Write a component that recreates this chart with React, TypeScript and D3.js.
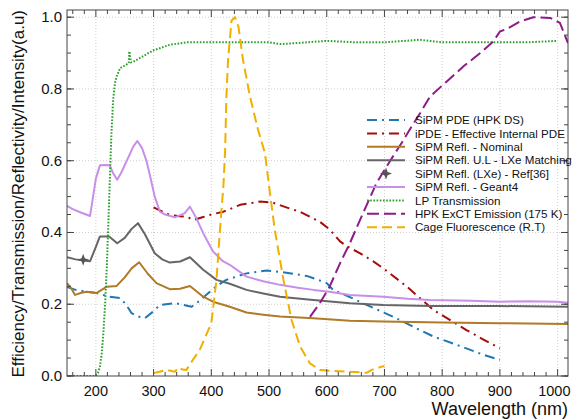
import React from "react";
import * as d3 from "d3";

const W = 572;
const H = 419;
const PL = 67, PR = 568, PT = 10, PB = 376;

// ---- data (wavelength nm, value) ----
const pdeWl = [150,165,184,201,224,242,252,262,275,285,298,311,337,366,380,395,410,426,461,496,530,553,565,585,600,611,640,669,700,727,755,785,842,870,900];
const pdeVal = [0.248,0.24,0.235,0.231,0.221,0.217,0.2,0.175,0.165,0.161,0.178,0.198,0.203,0.193,0.21,0.231,0.252,0.268,0.286,0.294,0.288,0.282,0.279,0.268,0.259,0.24,0.22,0.198,0.176,0.156,0.133,0.11,0.077,0.06,0.045];

const ipdeWl = [300,310,328,345,357,369,386,400,421,450,484,507,530,553,588,606,623,640,658,680,698,739,785,842,870,900];
const ipdeVal = [0.47,0.462,0.449,0.445,0.444,0.435,0.443,0.45,0.458,0.477,0.486,0.483,0.47,0.458,0.43,0.407,0.375,0.357,0.342,0.32,0.3,0.249,0.184,0.128,0.103,0.077];

const nomWl = [150,157,164,175,184,201,210,219,236,250,262,275,290,305,328,346,363,386,403,432,461,490,519,577,640,698,800,900,1018];
const nomVal = [0.259,0.245,0.226,0.232,0.235,0.231,0.24,0.249,0.251,0.275,0.3,0.317,0.285,0.259,0.242,0.243,0.251,0.221,0.207,0.193,0.177,0.171,0.166,0.161,0.154,0.152,0.149,0.147,0.145];

const ulWl = [150,165,178,190,200,207,223,237,250,262,273,285,302,315,328,346,363,386,409,432,461,490,519,577,640,698,779,900,1018];
const ulVal = [0.331,0.325,0.322,0.32,0.36,0.389,0.389,0.37,0.385,0.41,0.426,0.395,0.342,0.325,0.316,0.319,0.331,0.296,0.268,0.257,0.24,0.23,0.221,0.212,0.203,0.198,0.195,0.195,0.193];

const lxeWl = [178];
const lxeVal = [0.324];

const g4Wl = [150,160,175,190,200,207,215,224,230,237,245,255,265,272,280,288,295,302,311,320,337,354,363,374,386,403,420,432,461,490,519,550,577,605,640,698,740,779,850,900,950,1000,1018];
const g4Val = [0.474,0.465,0.455,0.446,0.55,0.587,0.588,0.587,0.565,0.547,0.57,0.605,0.64,0.655,0.635,0.598,0.55,0.5,0.458,0.45,0.442,0.454,0.472,0.44,0.398,0.347,0.32,0.31,0.277,0.264,0.254,0.246,0.24,0.235,0.226,0.221,0.215,0.212,0.21,0.207,0.208,0.207,0.204];

const lpWl = [150,198,201,204,207,210,213,216,219,223,227,230,233,236,242,253,257,258,261,265,276,299,328,357,400,450,500,519,540,600,650,700,761,800,883,950,998];
const lpVal = [0,0,0.003,0.01,0.026,0.06,0.12,0.2,0.305,0.49,0.677,0.77,0.816,0.835,0.858,0.868,0.872,0.905,0.874,0.876,0.886,0.907,0.923,0.93,0.93,0.93,0.93,0.925,0.927,0.934,0.93,0.93,0.937,0.93,0.93,0.93,0.934];

const excWl = [571,588,605,623,640,663,686,710,730,747,762,779,808,837,866,889,900,912,935,958,987,1004,1018];
const excVal = [0.165,0.203,0.249,0.314,0.37,0.454,0.537,0.6,0.65,0.695,0.733,0.779,0.821,0.863,0.9,0.933,0.96,0.967,0.988,1.0,0.998,0.984,0.928];

const cageWl = [300,310,322,337,343,350,357,366,380,400,409,415,421,424,426,429,435,441,447,455,467,481,493,500,510,525,539,554,571,588,600,640,669,678,695,700];
const cageVal = [0.008,0.012,0.017,0.012,0.024,0.018,0.017,0.04,0.073,0.147,0.268,0.407,0.53,0.63,0.77,0.88,0.99,1.0,0.974,0.88,0.779,0.686,0.621,0.53,0.407,0.268,0.156,0.082,0.035,0.017,0.015,0.012,0.009,0.017,0.026,0.028];

const xTicks = [200,300,400,500,600,700,800,900,1000];
const yTicks = [0,0.2,0.4,0.6,0.8,1.0];

type Series = { label: string; wl: number[]; val: number[]; color: string; dash: string; width: number; marker?: boolean };

const series: Series[] = [
  { label: "SiPM PDE (HPK DS)", wl: pdeWl, val: pdeVal, color: "#1f77b4", dash: "10,5,2,5", width: 2 },
  { label: "iPDE - Effective Internal PDE", wl: ipdeWl, val: ipdeVal, color: "#a50d0d", dash: "10,5,2,5", width: 2 },
  { label: "SiPM Refl. - Nominal", wl: nomWl, val: nomVal, color: "#b07a26", dash: "", width: 2 },
  { label: "SiPM Refl. U.L - LXe Matching", wl: ulWl, val: ulVal, color: "#666666", dash: "", width: 2 },
  { label: "SiPM Refl. (LXe) - Ref[36]", wl: lxeWl, val: lxeVal, color: "#555555", dash: "", width: 0, marker: true },
  { label: "SiPM Refl. - Geant4", wl: g4Wl, val: g4Val, color: "#c88fe8", dash: "", width: 2 },
  { label: "LP Transmission", wl: lpWl, val: lpVal, color: "#2ca02c", dash: "1.6,1.6", width: 2 },
  { label: "HPK ExCT Emission (175 K)", wl: excWl, val: excVal, color: "#8b1c88", dash: "12,5", width: 2 },
  { label: "Cage Fluorescence (R.T)", wl: cageWl, val: cageVal, color: "#f0b000", dash: "10,5", width: 2 },
];

const starPath = "M0,-6 L1.6,-1.6 L6,0 L1.6,1.6 L0,6 L-1.6,1.6 L-6,0 L-1.6,-1.6 Z";

export default function App() {
  const x = d3.scaleLinear().domain([150, 1018]).range([PL, PR]);
  const y = d3.scaleLinear().domain([0, 1.02]).range([PB, PT]);
  const xMinor = d3.range(160, 1018, 20);
  const yMinor = d3.range(0, 1.02, 0.05);
  const font = "Liberation Sans, Arial, sans-serif";

  const line = (s: Series) =>
    d3.line<number>().x((_, i) => x(s.wl[i])).y((v) => y(v))(s.val) || "";

  const frame = "#444";
  const legX0 = 367, legX1 = 405, legTx = 415, legY0 = 120, legDy = 13.4;
  const tickFs = 14.5;

  return (
    <svg width={W} height={H} style={{ display: "block", position: "absolute", left: 0, top: 0 }} fontFamily={font}>
      <defs>
        <clipPath id="plot">
          <rect x={PL} y={PT} width={PR - PL} height={PB - PT} />
        </clipPath>
      </defs>
      <rect x={0} y={0} width={W} height={H} fill="#fff" />
      {/* grid */}
      {xTicks.map((t) => (
        <line key={"gx" + t} x1={x(t)} x2={x(t)} y1={PT} y2={PB} stroke="#cfcfcf" strokeDasharray="1,2" strokeWidth={1} />
      ))}
      {yTicks.filter((t) => t > 0).map((t) => (
        <line key={"gy" + t} x1={PL} x2={PR} y1={y(t)} y2={y(t)} stroke="#cfcfcf" strokeDasharray="1,2" strokeWidth={1} />
      ))}
      {/* series */}
      <g clipPath="url(#plot)">
        {series.filter((s) => !s.marker).map((s) => (
          <path key={s.label} d={line(s)} fill="none" stroke={s.color} strokeWidth={s.width} strokeDasharray={s.dash || undefined} strokeLinejoin="round" />
        ))}
        {series.filter((s) => s.marker).map((s) =>
          s.wl.map((w, i) => (
            <path key={s.label + i} d={starPath} transform={`translate(${x(w)},${y(s.val[i])})`} fill={s.color} />
          ))
        )}
      </g>
      {/* frame */}
      <rect x={PL} y={PT} width={PR - PL} height={PB - PT} fill="none" stroke={frame} strokeWidth={1} />
      {/* ticks */}
      {xTicks.map((t) => {
        const halfW = (String(t).length * 0.556 * tickFs) / 2;
        const lx = Math.min(x(t), W - 1.5 - halfW);
        return (
          <g key={"xt" + t}>
            <line x1={x(t)} x2={x(t)} y1={PB} y2={PB - 7} stroke={frame} />
            <line x1={x(t)} x2={x(t)} y1={PT} y2={PT + 7} stroke={frame} />
            <text x={lx} y={396} fontSize={tickFs} textAnchor="middle" fill="#111">{t}</text>
          </g>
        );
      })}
      {xMinor.filter((t) => t % 100 !== 0).map((t) => (
        <g key={"xm" + t}>
          <line x1={x(t)} x2={x(t)} y1={PB} y2={PB - 4} stroke={frame} />
          <line x1={x(t)} x2={x(t)} y1={PT} y2={PT + 4} stroke={frame} />
        </g>
      ))}
      {yTicks.map((t) => (
        <g key={"yt" + t}>
          <line x1={PL} x2={PL + 7} y1={y(t)} y2={y(t)} stroke={frame} />
          <line x1={PR} x2={PR - 7} y1={y(t)} y2={y(t)} stroke={frame} />
          <text x={62} y={y(t) + 5} fontSize={15} textAnchor="end" fill="#111">{t.toFixed(1)}</text>
        </g>
      ))}
      {yMinor.map((t) => (
        <g key={"ym" + t}>
          <line x1={PL} x2={PL + 4} y1={y(t)} y2={y(t)} stroke={frame} />
          <line x1={PR} x2={PR - 4} y1={y(t)} y2={y(t)} stroke={frame} />
        </g>
      ))}
      {/* axis titles */}
      <text x={PR} y={415} fontSize={18} textAnchor="end" fill="#111">Wavelength (nm)</text>
      <text transform={`translate(24,${PT}) rotate(-90)`} fontSize={17} textAnchor="end" fill="#111">
        Efficiency/Transmission/Reflectivity/Intensity(a.u)
      </text>
      {/* legend */}
      {series.map((s, i) => {
        const ly = legY0 + i * legDy;
        return (
          <g key={"lg" + i}>
            {s.marker ? (
              <path d={starPath} transform={`translate(${(legX0 + legX1) / 2},${ly})`} fill={s.color} />
            ) : (
              <line x1={legX0} x2={legX1} y1={ly} y2={ly} stroke={s.color} strokeWidth={s.width} strokeDasharray={s.dash || undefined} />
            )}
            <text x={legTx} y={ly + 4.2} fontSize={11.6} fill="#111">{s.label}</text>
          </g>
        );
      })}
    </svg>
  );
}
